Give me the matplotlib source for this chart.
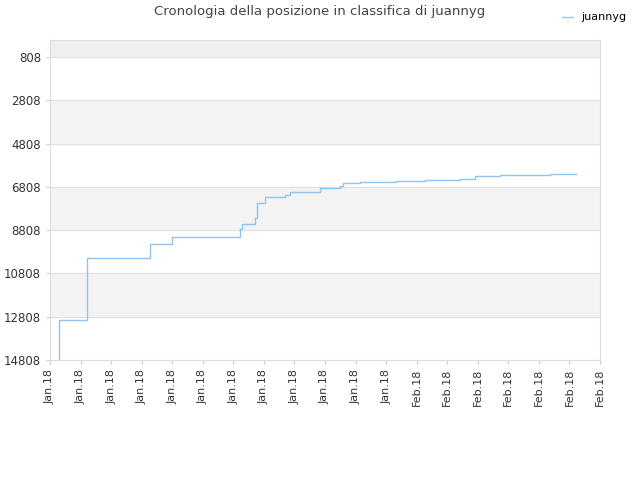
import matplotlib
matplotlib.use("Agg")
import matplotlib.pyplot as plt

xpx = [59,59,87,87,150,172,240,242,255,257,265,285,290,320,340,343,360,395,425,460,475,500,550,576]
ypx = [360,320,298,258,244,237,229,224,218,203,197,195,192,188,186,183,182,181,180,179,176,175,174,174]
xs = [(x-50)/30.55 for x in xpx]
vals = [14808,12955,11940,10090,9445,9120,8750,8520,8245,7550,7275,7180,7040,6860,6765,6630,6580,6535,6490,6440,6305,6260,6210,6210]
xlabels = ["Jan.18"]*12 + ["Feb.18"]*7
yticks = [808,2808,4808,6808,8808,10808,12808,14808]

fig = plt.figure(figsize=(6.4,4.8), dpi=100)
ax = fig.add_axes([50/640, 1-360/480, 550/640, 320/480])
ax.set_ylim(14808, 23)
ax.set_xlim(0, 18)
ax.axhspan(808, 23, color="#efefef", zorder=0)
for i in range(len(yticks)-1):
    if i % 2 == 1:
        ax.axhspan(yticks[i], yticks[i+1], color="#f3f3f3", zorder=0)
for t in yticks:
    ax.axhline(t, color="#e0e0e0", lw=0.8, zorder=1)
ax.step(xs, vals, where="post", color="#90c4f0", lw=1, label="juannyg", zorder=2)
ax.set_yticks(yticks)
ax.set_yticklabels([str(t) for t in yticks], fontsize=8.5, color="#333")
ax.set_xticks(range(19))
ax.set_xticklabels(xlabels, rotation=90, fontsize=8, color="#333")
for s in ax.spines.values():
    s.set_color("#dddddd")
ax.tick_params(length=3, color="#ccc")
fig.text(0.5, 1-12/480, "Cronologia della posizione in classifica di juannyg", ha="center", va="center", fontsize=9.5, color="#444")
fig.legend(loc="upper right", bbox_to_anchor=(0.995, 0.995), frameon=False, fontsize=8, handlelength=1)
fig.savefig("out.png", dpi=100)
